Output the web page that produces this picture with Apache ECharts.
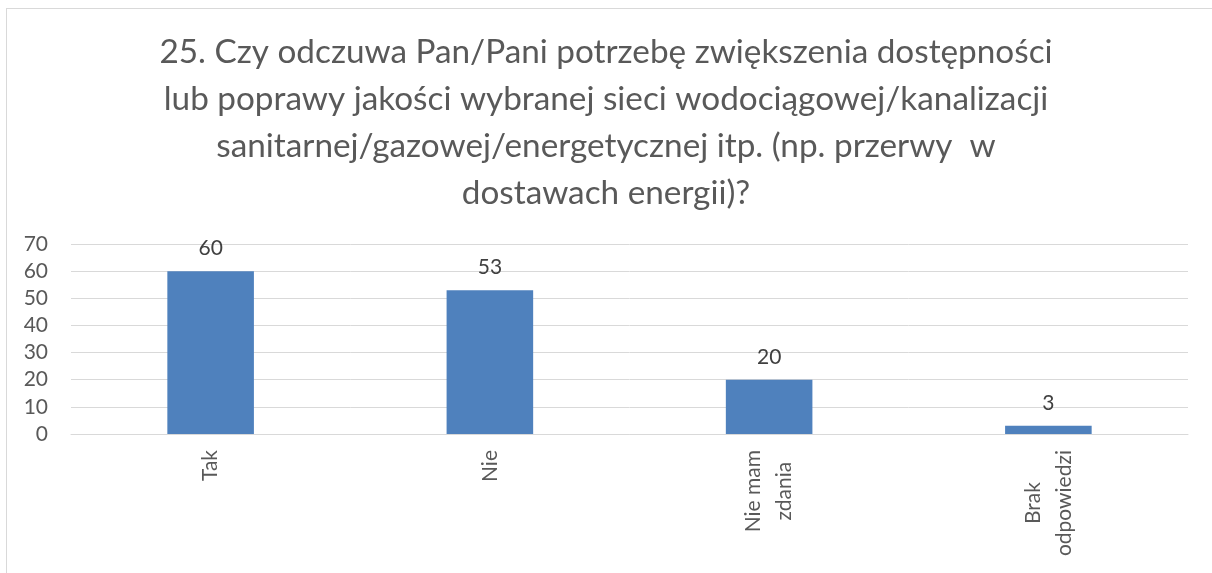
<!DOCTYPE html>
<html>
<head>
<meta charset="utf-8">
<script src="https://cdn.jsdelivr.net/npm/echarts@6/dist/echarts.min.js"></script>
<style>
    html, body { margin: 0; padding: 0; background: #fff; overflow: hidden; }
    #frame { position: absolute; left: 6px; top: 8px; width: 1400px; height: 800px; border: 1px solid #D9D9D9; }
    #chart { position: absolute; left: 0; top: 0; width: 1212px; height: 573px; }
</style>
</head>
<body>
<div id="frame"></div>
<div id="chart"></div>
<script>
var titleLines = [
    '25. Czy odczuwa Pan/Pani potrzebę zwiększenia dostępności',
    'lub poprawy jakości wybranej sieci wodociągowej/kanalizacji',
    'sanitarnej/gazowej/energetycznej itp. (np. przerwy  w',
    'dostawach energii)?'
];
var categories = ['Tak', 'Nie', 'Nie mam\nzdania', 'Brak\nodpowiedzi'];
var values = [60, 53, 20, 3];
var yTicks = { min: 0, max: 70, interval: 10 };

// 基于准备好的dom，初始化echarts实例
var myChart = echarts.init(document.getElementById('chart'));
var font = 'Lato, "Noto Sans", sans-serif';

var option = {
    animation: false,
    title: {
        text: titleLines.join('\n'),
        left: 'center',
        top: 24,
        textStyle: {
            color: '#595959',
            fontFamily: font,
            fontWeight: 'normal',
            fontSize: 33.3,
            lineHeight: 47
        }
    },
    grid: {
        left: 71,
        right: 24,
        top: 244,
        bottom: 139,
        outerBoundsMode: 'none'
    },
    xAxis: {
        type: 'category',
        data: categories,
        axisLine: { lineStyle: { color: '#D9D9D9', width: 1 } },
        axisTick: { show: false },
        axisLabel: {
            rotate: 90,
            margin: 16,
            color: '#595959',
            fontFamily: font,
            fontSize: 21,
            lineHeight: 31,
            formatter: function (v) {
                return v.split('\n').map(function (s) { return '{c|' + s + '}'; }).join('\n');
            },
            rich: {
                c: {
                    align: 'center',
                    color: '#595959',
                    fontFamily: font,
                    fontSize: 21,
                    lineHeight: 31
                }
            }
        }
    },
    yAxis: {
        type: 'value',
        min: yTicks.min,
        max: yTicks.max,
        interval: yTicks.interval,
        axisLine: { show: false },
        axisTick: { show: false },
        splitLine: { lineStyle: { color: '#D9D9D9', width: 1 } },
        axisLabel: {
            margin: 23,
            color: '#595959',
            fontFamily: font,
            fontSize: 21
        }
    },
    series: [
        {
            type: 'bar',
            data: values,
            barWidth: '31%',
            itemStyle: { color: '#4F81BD' },
            label: {
                show: true,
                position: 'top',
                distance: 12,
                color: '#404040',
                fontFamily: font,
                fontSize: 21
            }
        }
    ]
};

myChart.setOption(option);
window.addEventListener("resize", function () {
    myChart.resize();
});
</script>
</body>
</html>
